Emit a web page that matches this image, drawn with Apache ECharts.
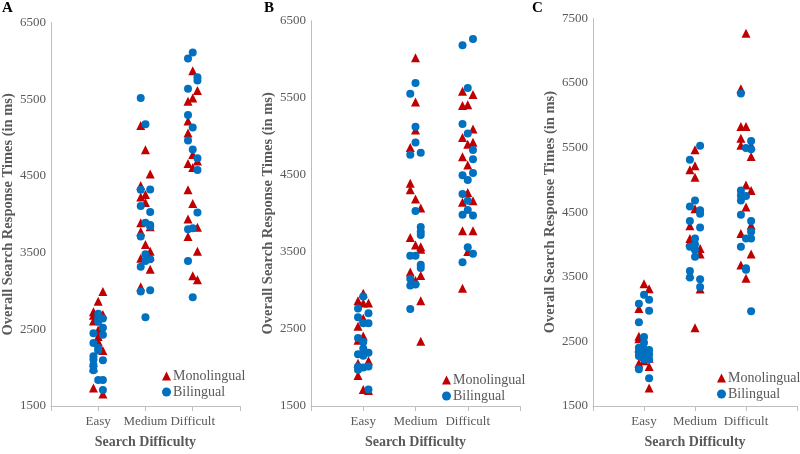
<!DOCTYPE html>
<html><head><meta charset="utf-8">
<script src="https://cdn.jsdelivr.net/npm/echarts@6/dist/echarts.min.js"></script>
<style>html,body{margin:0;padding:0;background:#fff}#c{width:800px;height:454px}</style>
</head><body><div id="c"></div>
<script>
// Categories and tick labels
const categories = ['Easy', 'Medium', 'Difficult'];
const yTicksAB = [1500, 2500, 3500, 4500, 5500, 6500];
const yTicksC = [1500, 2500, 3500, 4500, 5500, 6500, 7500];
const panelLetters = ['A', 'B', 'C'];
// Each point: [jitter column (-1 left, 0 centre, 1 right), response time ms]
// Panel A
const easyMonoA = [[1,2993],[0,2865],[-1,2728],[-1,2685],[1,2694],[-1,2608],[0,2492],[0,2406],[0,2342],[1,2223],[-1,2065],[-1,2000],[-1,1735],[1,1658]];
const easyBiA = [[0,2702],[0,2643],[1,2643],[0,2600],[1,2522],[-1,2450],[1,2428],[-1,2322],[0,2257],[0,2223],[-1,2150],[-1,2107],[1,2098],[-1,2034],[-1,1966],[0,1838],[1,1838],[1,1709]];
const medMonoA = [[-1,5159],[0,4842],[1,4525],[-1,4376],[0,4260],[-1,4226],[0,4153],[-1,3892],[1,3838],[-1,3777],[0,3606],[1,3520],[1,3456],[-1,3426],[1,3285],[-1,3057]];
const medBiA = [[-1,5519],[0,5176],[-1,4320],[1,4325],[-1,4110],[1,4030],[0,3892],[1,3862],[1,3841],[-1,3712],[0,3478],[1,3413],[0,3391],[-1,3318],[-1,2993],[1,3010],[0,2659]];
const diffMonoA = [[0,5873],[1,5617],[0,5519],[-1,5475],[-1,5218],[-1,5061],[0,4782],[1,4697],[-1,4662],[0,4611],[-1,4320],[0,4140],[-1,3940],[1,3832],[-1,3712],[1,3520],[0,3199],[1,3148]];
const diffBiA = [[0,6110],[-1,6032],[1,5788],[1,5745],[-1,5638],[-1,5295],[0,5134],[-1,4962],[0,4846],[1,4731],[1,4577],[1,4025],[-1,3806],[0,3819],[-1,3391],[0,2920]];
// Panel B
const easyMonoB = [[0,2963],[-1,2865],[0,2835],[1,2835],[0,2638],[-1,2536],[0,2408],[-1,2353],[1,2088],[-1,2055],[-1,1896],[0,1714],[1,1701]];
const easyBiB = [[0,2920],[-1,2766],[1,2702],[-1,2651],[0,2574],[1,2574],[-1,2383],[0,2331],[0,2246],[-1,2170],[0,2152],[1,2191],[-1,2012],[-1,1970],[0,1999],[1,2012],[1,1714]];
const medMonoB = [[0,6020],[0,5444],[0,5081],[-1,4856],[-1,4391],[-1,4306],[0,4186],[1,4071],[-1,3687],[0,3590],[1,3568],[1,3534],[-1,3239],[1,3193],[0,3129],[1,2865],[1,2340]];
const medBiB = [[0,5691],[-1,5551],[0,5125],[0,4920],[-1,4762],[1,4787],[0,4029],[1,3824],[1,3760],[1,3718],[-1,3449],[0,3449],[1,3334],[1,3291],[-1,3150],[-1,3065],[0,3078],[-1,2758]];
const diffMonoB = [[-1,5585],[1,5542],[-1,5401],[0,5410],[1,5094],[-1,4984],[0,4898],[1,4924],[-1,4736],[0,4626],[0,4272],[1,4165],[-1,4144],[-1,3773],[1,3773],[0,3504],[-1,3027]];
const diffBiB = [[1,6263],[-1,6181],[0,5627],[-1,5158],[0,5035],[1,4822],[1,4703],[1,4524],[-1,4493],[0,4434],[-1,4250],[0,4165],[0,4045],[-1,3981],[1,3973],[0,3559],[1,3475],[-1,3364]];
// Panel C
const easyMonoC = [[0,3391],[1,3314],[-1,3007],[-1,2580],[-1,2541],[-1,2400],[0,2270],[1,2240],[0,2199],[-1,2162],[1,2111],[1,1778]];
const easyBiC = [[0,3222],[1,3145],[-1,3084],[1,2976],[-1,2798],[0,2567],[0,2480],[-1,2403],[-1,2326],[-1,2275],[0,2377],[0,2300],[0,2224],[1,2368],[1,2300],[1,2224],[-1,2070],[1,1931]];
const medMonoC = [[0,5465],[0,5219],[-1,5157],[0,5040],[0,4554],[-1,4288],[-1,4093],[-1,4042],[1,3939],[1,3852],[-1,3540],[1,3309],[0,2710]];
const medBiC = [[1,5526],[-1,5311],[0,4681],[-1,4589],[1,4528],[1,4477],[-1,4364],[1,4262],[0,4093],[0,4005],[-1,3966],[0,3913],[0,3811],[-1,3591],[-1,3489],[1,3463],[1,3340]];
const diffMonoC = [[0,7268],[-1,6408],[-1,5824],[0,5824],[-1,5644],[-1,5537],[1,5537],[1,5363],[0,4922],[1,4835],[0,4580],[1,4297],[-1,4170],[1,3852],[-1,3683],[0,3478]];
const diffBiC = [[-1,6335],[1,5603],[0,5491],[1,5475],[-1,4835],[-1,4758],[0,4749],[-1,4681],[-1,4461],[1,4364],[1,4196],[0,4093],[1,4093],[-1,3966],[0,3632],[0,3610],[1,2967]];

const panels = [
  {mono: [easyMonoA, medMonoA, diffMonoA], bi: [easyBiA, medBiA, diffBiA], ticks: yTicksAB},
  {mono: [easyMonoB, medMonoB, diffMonoB], bi: [easyBiB, medBiB, diffBiB], ticks: yTicksAB},
  {mono: [easyMonoC, medMonoC, diffMonoC], bi: [easyBiC, medBiC, diffBiC], ticks: yTicksC}
];

const JITTER = 0.1;
function toPoints(groups) {
  const out = [];
  groups.forEach((g, ci) => g.forEach(p => out.push([ci + 1 + p[0] * JITTER, p[1]])));
  return out;
}

const FONT = 'Liberation Serif';
const GRAY = '#595959';
const AXISC = '#bfbfbf';
const RED = '#C00000';
const BLUE = '#0070C0';

const grids = [
  {left: 50, top: 22.7, width: 190, height: 389.3},
  {left: 311, top: 20.7, width: 209, height: 391},
  {left: 593, top: 18.3, width: 205, height: 390}
];
const legendPos = [
  {left: 162, top: 369},
  {left: 442, top: 373},
  {left: 717, top: 371}
];
const letterPos = [2, 264, 532];

const option = {
  animation: false,
  backgroundColor: '#fff',
  title: panelLetters.map((t, i) => ({
    text: t, left: letterPos[i], top: 1, padding: 0,
    textStyle: {fontFamily: FONT, fontWeight: 'bold', fontSize: 15, color: '#000'}
  })),
  legend: legendPos.map((lp, i) => ({
    data: ['Monolingual', 'Bilingual'],
    orient: 'vertical', left: lp.left, top: lp.top, padding: 0,
    itemGap: 2, itemWidth: 9, itemHeight: 9,
    selectedMode: false,
    textStyle: {fontFamily: FONT, fontSize: 14, color: GRAY, padding: [0, 0, 0, -3]}
  })),
  grid: grids,
  xAxis: grids.map((g, i) => ({
    type: 'value', gridIndex: i, min: 0, max: 4, interval: 1,
    name: 'Search Difficulty', nameLocation: 'middle', nameGap: 29,
    nameTextStyle: {fontFamily: FONT, fontWeight: 'bold', fontSize: 14, color: GRAY},
    axisLine: {show: true, lineStyle: {color: AXISC, width: 1}},
    axisTick: {show: true, length: 5, lineStyle: {color: AXISC}},
    splitLine: {show: false},
    axisLabel: {
      margin: 9, fontFamily: FONT, fontSize: 13, color: GRAY,
      formatter: v => (v >= 1 && v <= 3 && Number.isInteger(v)) ? categories[v - 1] : ''
    }
  })),
  yAxis: panels.map((p, i) => ({
    type: 'value', gridIndex: i,
    min: p.ticks[0], max: p.ticks[p.ticks.length - 1], interval: 500,
    name: 'Overall Search Response Times (in ms)', nameLocation: 'middle', nameGap: 34,
    nameTextStyle: {fontFamily: FONT, fontWeight: 'bold', fontSize: 14.5, color: GRAY},
    axisLine: {show: true, lineStyle: {color: AXISC, width: 1}},
    axisTick: {show: false},
    splitLine: {show: false},
    axisLabel: {
      margin: 5, fontFamily: FONT, fontSize: 13, color: GRAY,
      formatter: v => p.ticks.indexOf(v) >= 0 ? String(v) : ''
    }
  })),
  series: []
};

panels.forEach((p, i) => {
  option.series.push({
    name: 'Monolingual', type: 'scatter', xAxisIndex: i, yAxisIndex: i,
    symbol: 'triangle', symbolSize: 9, itemStyle: {color: RED, opacity: 1},
    data: toPoints(p.mono)
  });
  option.series.push({
    name: 'Bilingual', type: 'scatter', xAxisIndex: i, yAxisIndex: i,
    symbol: 'circle', symbolSize: 8, itemStyle: {color: BLUE, opacity: 1},
    data: toPoints(p.bi)
  });
});

const chart = echarts.init(document.getElementById('c'), null, {renderer: 'canvas'});
chart.setOption(option);
</script>
</body></html>
